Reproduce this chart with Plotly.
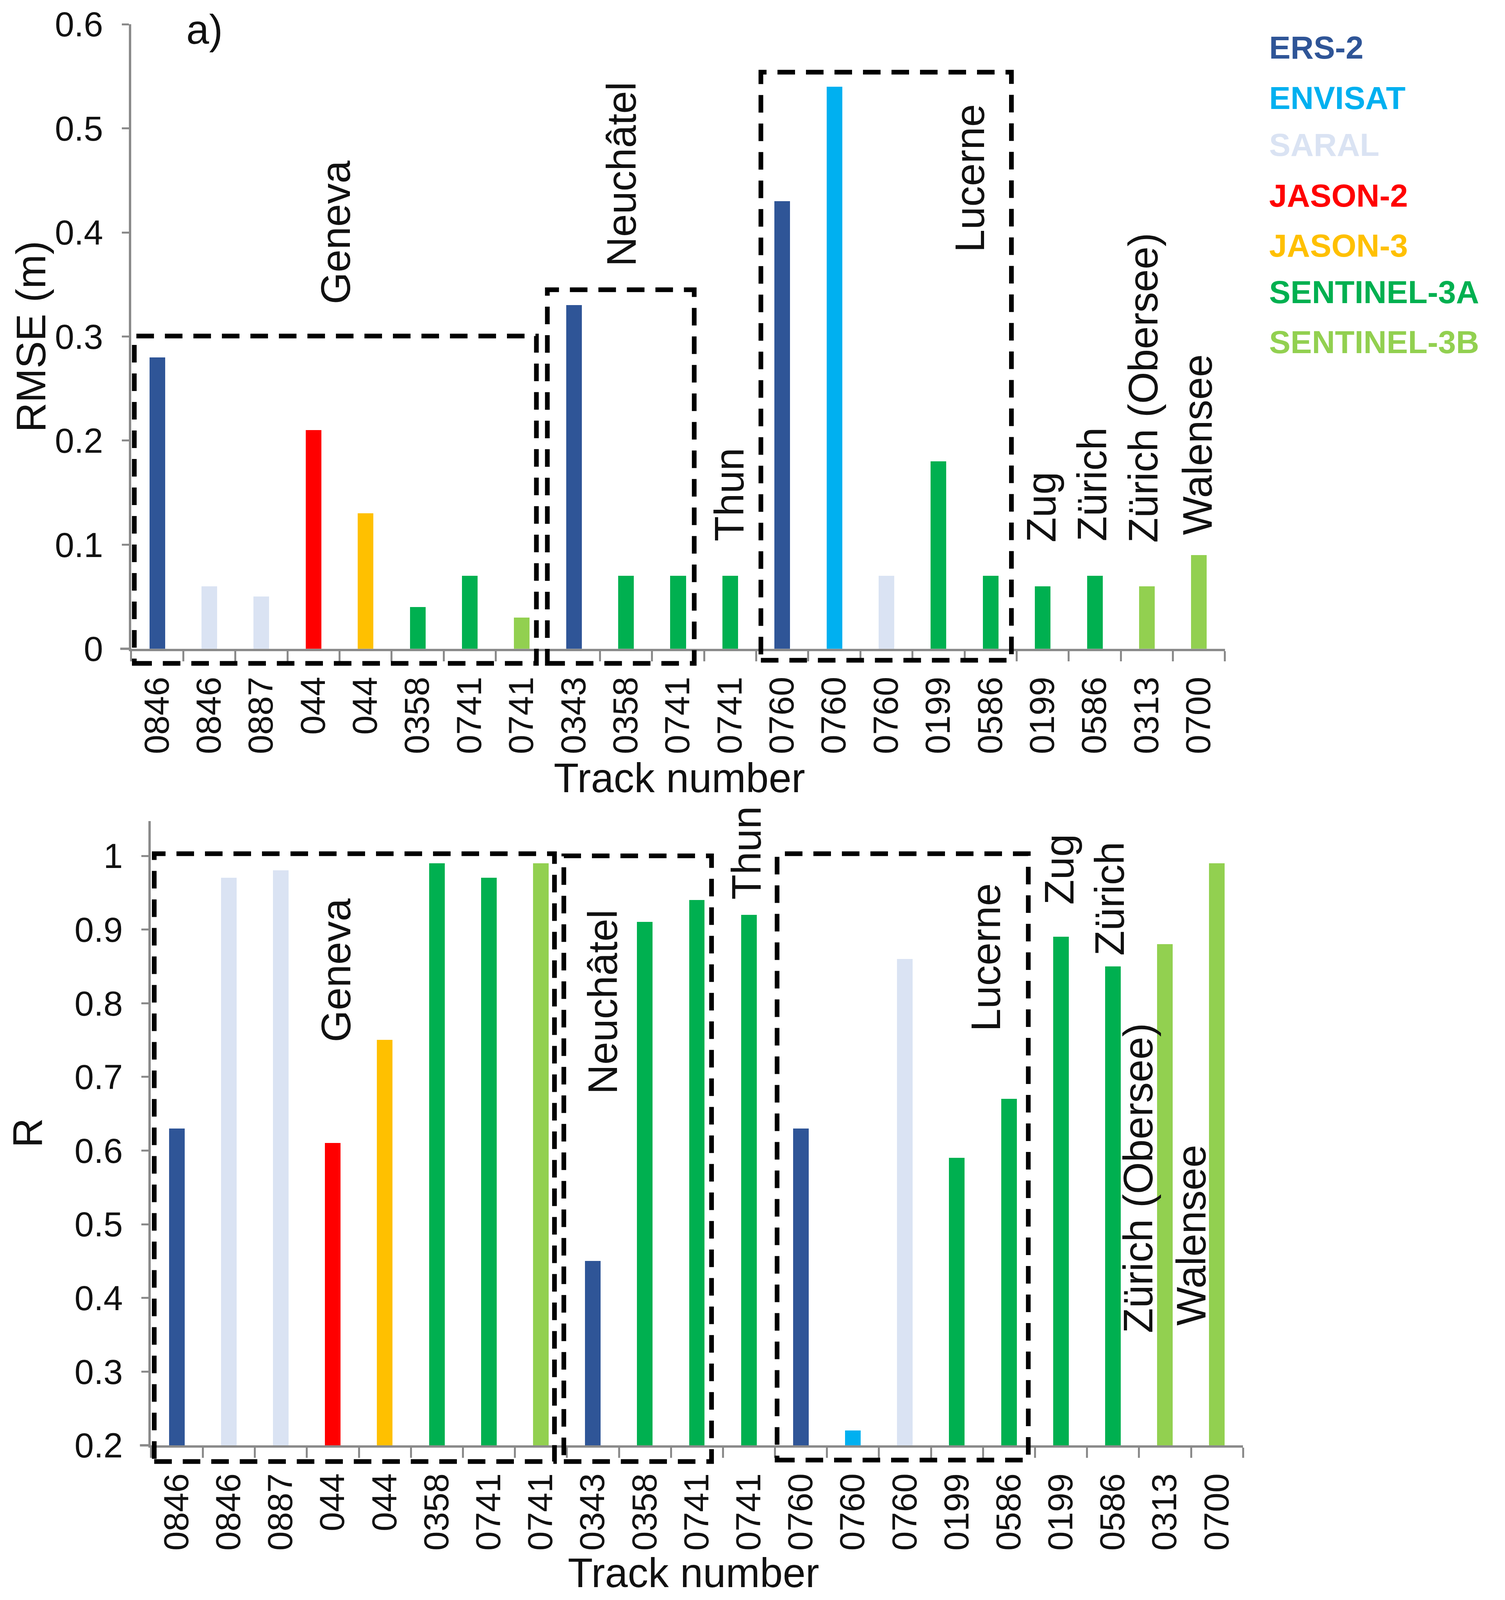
import plotly.graph_objects as go

# Track labels (same order in both panels)
tracks = ["0846", "0846", "0887", "044", "044", "0358", "0741", "0741",
          "0343", "0358", "0741", "0741",
          "0760", "0760", "0760", "0199", "0586",
          "0199", "0586", "0313", "0700"]

# Mission of each bar
missions = ["ERS-2", "SARAL", "SARAL", "JASON-2", "JASON-3", "SENTINEL-3A", "SENTINEL-3A", "SENTINEL-3B",
            "ERS-2", "SENTINEL-3A", "SENTINEL-3A", "SENTINEL-3A",
            "ERS-2", "ENVISAT", "SARAL", "SENTINEL-3A", "SENTINEL-3A",
            "SENTINEL-3A", "SENTINEL-3A", "SENTINEL-3B", "SENTINEL-3B"]

# Panel a) RMSE (m)
rmse = [0.28, 0.06, 0.05, 0.21, 0.13, 0.04, 0.07, 0.03,
        0.33, 0.07, 0.07, 0.07,
        0.43, 0.54, 0.07, 0.18, 0.07,
        0.06, 0.07, 0.06, 0.09]

# Panel b) correlation R
r_values = [0.63, 0.97, 0.98, 0.61, 0.75, 0.99, 0.97, 0.99,
            0.45, 0.91, 0.94, 0.92,
            0.63, 0.22, 0.86, 0.59, 0.67,
            0.89, 0.85, 0.88, 0.99]

legend_names = ["ERS-2", "ENVISAT", "SARAL", "JASON-2", "JASON-3", "SENTINEL-3A", "SENTINEL-3B"]
legend_colors = ["#2F5597", "#00B0F0", "#DAE3F3", "#FF0000", "#FFC000", "#00B050", "#92D050"]
mission_color = dict(zip(legend_names, legend_colors))

lakes = ["Geneva", "Neuchâtel", "Thun", "Lucerne", "Zug", "Zürich", "Zürich (Obersee)", "Walensee"]

FONT = "Liberation Sans"
AXIS_GREY = "#8a8a8a"
TXT = "#111"

# the visible page is a little shorter than the reference, so everything is
# laid out in reference pixels and shrunk by S; the body has an 8px margin
S = 0.988
OFF = 8
W, H = 3838, round(4146 * S) - 2 * OFF


def fx(px):
    return (px * S - OFF) / W


def fy(py):
    return 1 - (py * S - OFF) / H


def fs(size):
    return round(size * S)


x_pos = list(range(len(tracks)))
bar_colors = [mission_color[m] for m in missions]

fig = go.Figure()

fig.add_trace(go.Bar(x=x_pos, y=rmse, marker=dict(color=bar_colors, line=dict(width=0)),
                     width=0.3, xaxis="x", yaxis="y", showlegend=False))
fig.add_trace(go.Bar(x=x_pos, y=r_values, marker=dict(color=bar_colors, line=dict(width=0)),
                     width=0.3, xaxis="x2", yaxis="y2", showlegend=False))

top_range = [0, 0.6]
bot_range = [0.2, 1.047]
cat_edges = [i - 0.5 for i in range(len(tracks) + 1)]


def x_axis(domain, anchor):
    return dict(
        domain=domain, anchor=anchor, range=[-0.5, len(tracks) - 0.5],
        automargin=False,
        tickmode="array", tickvals=x_pos, ticktext=tracks, tickangle=-90,
        ticks="", ticklabelstandoff=30,
        tickfont=dict(family=FONT, size=fs(90), color=TXT),
        showline=True, linecolor=AXIS_GREY, linewidth=6,
        showgrid=False, zeroline=False,
        minor=dict(tickmode="array", tickvals=cat_edges, ticks="outside",
                   ticklen=26, tickwidth=5, tickcolor=AXIS_GREY, showgrid=False),
    )


def y_axis(domain, anchor, rng, vals, texts):
    return dict(
        domain=domain, anchor=anchor, range=rng,
        automargin=False,
        tickmode="array", tickvals=vals, ticktext=texts,
        ticks="outside", ticklen=18, tickwidth=5, tickcolor=AXIS_GREY,
        ticklabelstandoff=30,
        tickfont=dict(family=FONT, size=fs(90), color=TXT),
        showline=True, linecolor=AXIS_GREY, linewidth=6,
        showgrid=False, zeroline=False,
    )


top_ticks = [round(0.1 * k, 1) for k in range(7)]
bot_ticks = [round(0.2 + 0.1 * k, 1) for k in range(9)]

fig.update_layout(
    width=W, height=H,
    margin=dict(l=0, r=0, t=0, b=0, pad=0),
    paper_bgcolor="white", plot_bgcolor="white",
    font=dict(family=FONT, size=fs(106), color=TXT),
    bargap=0,
    xaxis=x_axis([fx(340), fx(3175)], "y"),
    yaxis=y_axis([fy(1681), fy(63)], "x", top_range, top_ticks,
                 [f"{v:g}" for v in top_ticks]),
    xaxis2=x_axis([fx(391), fx(3222)], "y2"),
    yaxis2=y_axis([fy(3745), fy(2128)], "x2", bot_range, bot_ticks,
                  [f"{v:g}" for v in bot_ticks]),
)

# short stub of the category axis sticking out left of the value axis
for xr, yr in [("x domain", "y domain"), ("x2 domain", "y2 domain")]:
    fig.add_shape(type="line", xref=xr, yref=yr, x0=-0.01, x1=0, y0=0, y1=0,
                  line=dict(color=AXIS_GREY, width=6))


def dom(v, rng):
    return (v - rng[0]) / (rng[1] - rng[0])


# dashed lake group boxes: (x0, x1, y0, y1) in data units
top_boxes = [(-0.44, 7.28, -0.014, 0.3005), (7.49, 10.31, -0.014, 0.345), (11.59, 16.40, -0.011, 0.554)]
bot_boxes = [(-0.435, 7.26, 0.178, 1.003), (7.44, 10.28, 0.178, 1.0), (11.54, 16.37, 0.18, 1.003)]

for boxes, xr, yr, rng in [(top_boxes, "x", "y domain", top_range), (bot_boxes, "x2", "y2 domain", bot_range)]:
    for x0, x1, y0, y1 in boxes:
        fig.add_shape(type="rect", xref=xr, yref=yr, x0=x0, x1=x1,
                      y0=dom(y0, rng), y1=dom(y1, rng),
                      line=dict(color="black", width=12, dash="45px,28px"),
                      fillcolor="rgba(0,0,0,0)", layer="above")

# lake name positions (x, y) in data units
top_lake_pos = [(3.42, 0.40), (8.92, 0.456), (10.98, 0.148), (15.6, 0.452),
                (16.97, 0.136), (17.95, 0.158), (18.93, 0.251), (19.97, 0.196)]
bot_lake_pos = [(3.06, 0.845), (8.19, 0.802), (10.95, 1.004), (15.55, 0.862),
                (16.96, 0.982), (17.93, 0.942), (18.48, 0.563), (19.5, 0.485)]

for positions, xr, yr in [(top_lake_pos, "x", "y"), (bot_lake_pos, "x2", "y2")]:
    for name, (lx, ly) in zip(lakes, positions):
        fig.add_annotation(text=name, x=lx, y=ly, xref=xr, yref=yr, textangle=-90,
                           showarrow=False, xanchor="center", yanchor="middle",
                           font=dict(family=FONT, size=fs(106), color=TXT))

# panel letters
fig.add_annotation(text="a)", x=0.91, y=0.595, xref="x", yref="y", showarrow=False,
                   xanchor="center", yanchor="middle", font=dict(family=FONT, size=fs(106), color=TXT))
fig.add_annotation(text="b)", x=0.91, y=1.048, xref="x2", yref="y2", showarrow=False,
                   xanchor="center", yanchor="middle", font=dict(family=FONT, size=fs(106), color=TXT))

# axis titles (pixel centres in reference pixels)
titles = [("RMSE (m)", 80, 872, -90), ("R", 72, 2935, -90),
          ("Track number", 1761, 2016, 0), ("Track number", 1798, 4075, 0)]
for text, px, py, ang in titles:
    fig.add_annotation(text=text, x=fx(px), y=fy(py), xref="paper", yref="paper",
                       textangle=ang, showarrow=False, xanchor="center", yanchor="middle",
                       font=dict(family=FONT, size=fs(106), color=TXT))

# mission legend as coloured bold text
legend_y = [123, 254, 375, 507, 636, 757, 886]
for name, color, py in zip(legend_names, legend_colors, legend_y):
    fig.add_annotation(text=f"<b>{name}</b>", x=fx(3287), y=fy(py),
                       xref="paper", yref="paper", xanchor="left", yanchor="middle",
                       showarrow=False, font=dict(family=FONT, size=fs(83), color=color))

fig.write_html("out.html")
